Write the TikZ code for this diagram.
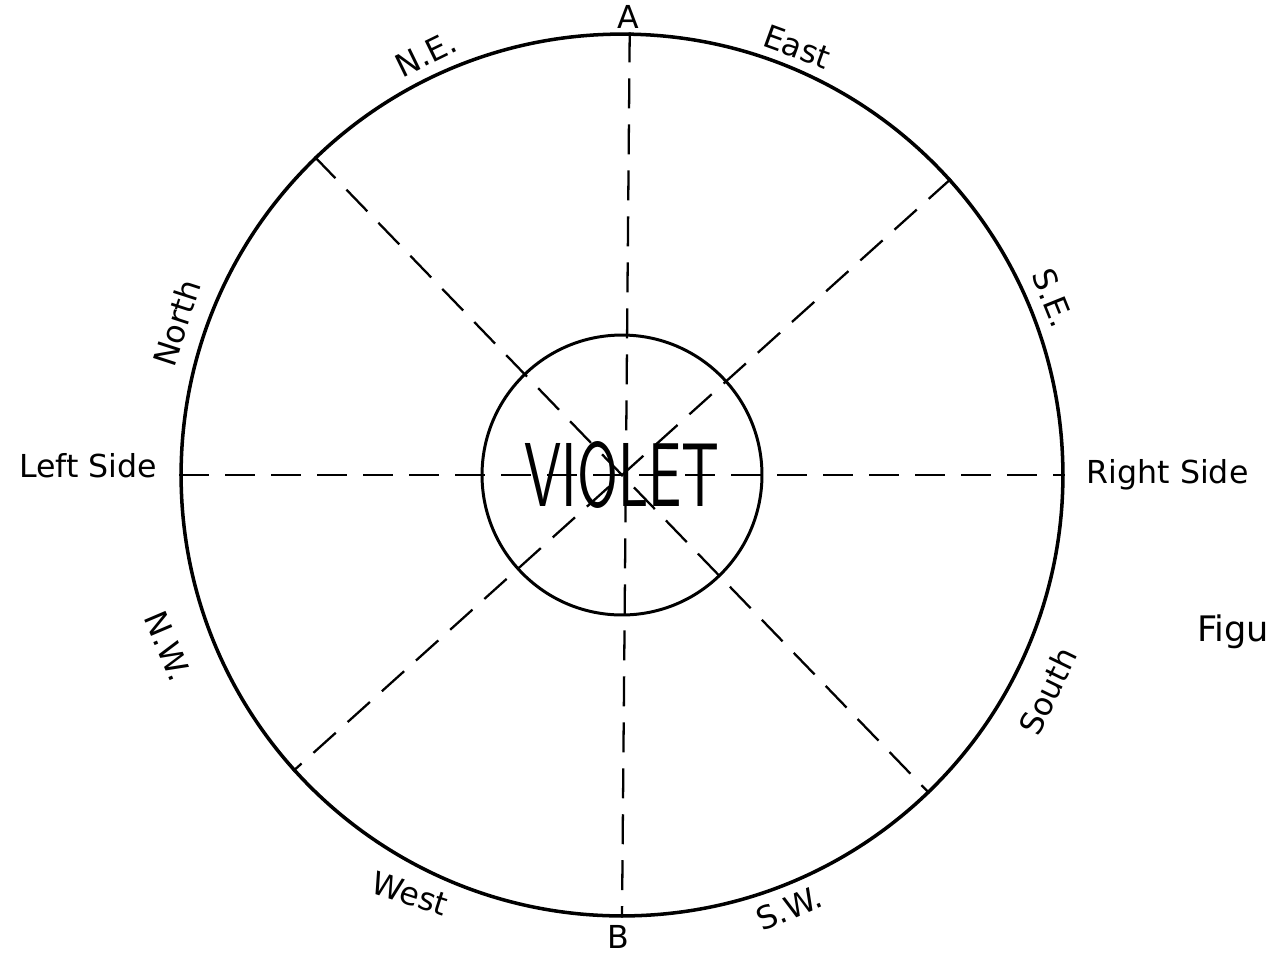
\documentclass[tikz,border=0pt]{standalone}
\usepackage{fontspec}
\usepackage{graphicx}
\setmainfont{DejaVu Sans}
\usetikzlibrary{positioning}
\tikzset{
  rimcircle/.style={circle,draw,line width=2pt,minimum size=17.64cm,inner sep=0pt},
  hubcircle/.style={circle,draw,line width=1.7pt,minimum size=5.6cm,inner sep=0pt},
  spoke/.style={line width=1.3pt,dash pattern=on 0.6cm off 0.32cm},
  dirlabel/.style={font=\fontsize{18}{20}\selectfont,inner sep=1pt}
}
\begin{document}
\begin{tikzpicture}[x=0.02cm,y=-0.02cm]
  \useasboundingbox (0,0) rectangle (1270,958);
  \node[rimcircle] (rim) at (622,475) {};
  % dashed spokes
  \draw[spoke] (rim.89) -- (rim.270);
  \draw[spoke] (rim.west) -- (rim.east);
  \draw[spoke] (rim.134) -- (rim.-46);
  \draw[spoke] (rim.42) -- (rim.222);
  \node[hubcircle] (hub) at (622,475) {\resizebox{3.9cm}{1.3cm}{\sffamily VIOLET}};
  % labels round the rim
  \node[dirlabel] (a) at (628,17) {A};
  \node[dirlabel] (b) at (618,937) {B};
  \node[dirlabel, left=0.4cm of rim.west, yshift=0.18cm] (leftside) {Left Side};
  \node[dirlabel, right=0.4cm of rim.east] (rightside) {Right Side};
  \node[dirlabel, rotate=26] (ne) at (426,54) {N.E.};
  \node[dirlabel, rotate=-20] (east) at (797,47) {East};
  \node[dirlabel, rotate=72] (north) at (177,323) {North};
  \node[dirlabel, rotate=-68] (se) at (1053,298) {S.E.};
  \node[dirlabel, rotate=-67] (nw) at (168,646) {N.W.};
  \node[dirlabel, rotate=64] (south) at (1048,691) {South};
  \node[dirlabel, rotate=-18] (west) at (410,894) {West};
  \node[dirlabel, rotate=23] (sw) at (789,908) {S.W.};
  \node[dirlabel, font=\fontsize{20}{22}\selectfont, anchor=west] (fig) at (1195,632) {Figu};
\end{tikzpicture}
\end{document}
